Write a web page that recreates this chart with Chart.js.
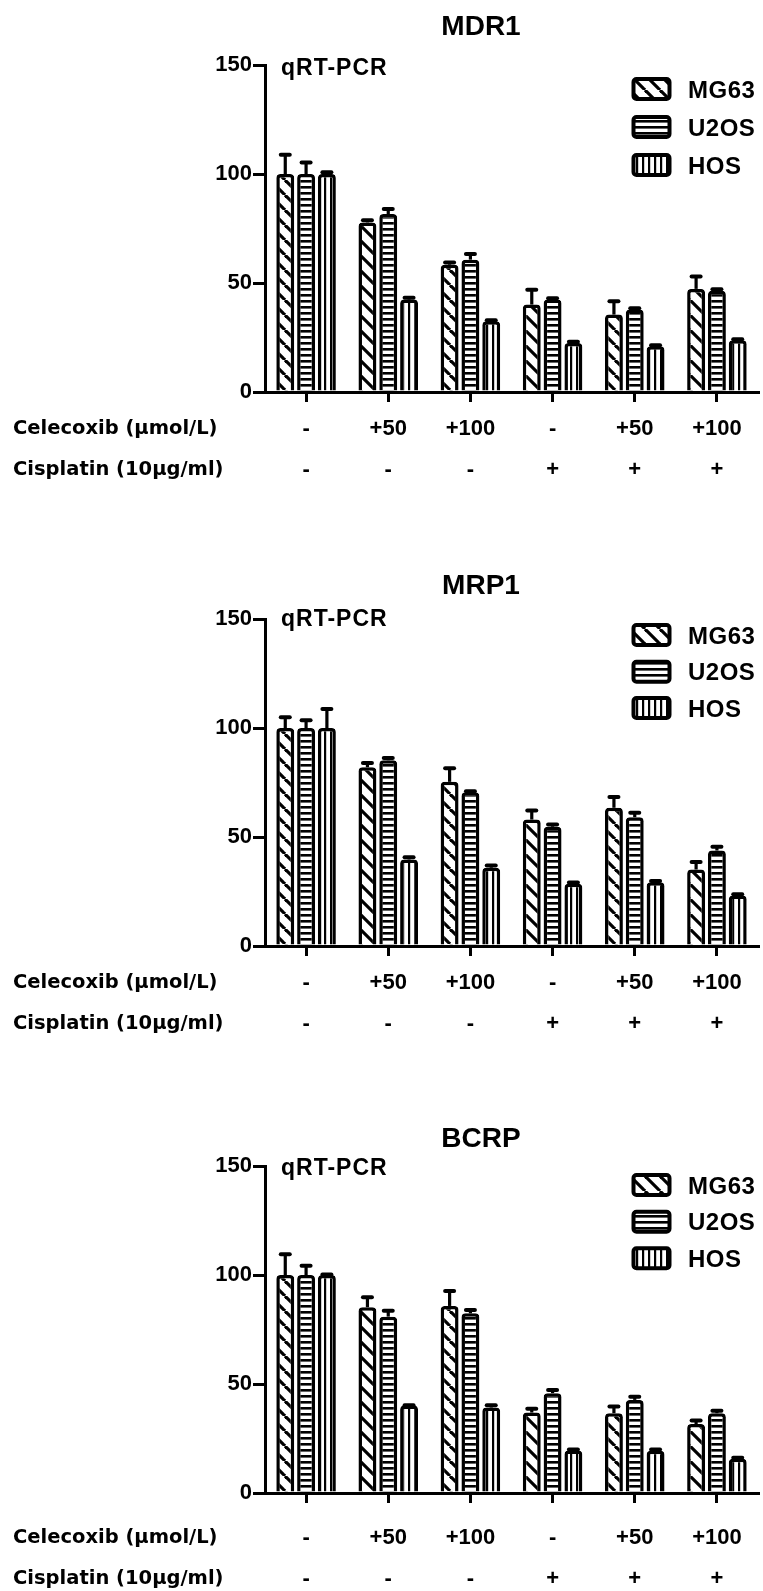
<!DOCTYPE html>
<html>
<head>
<meta charset="utf-8">
<script src="https://cdn.jsdelivr.net/npm/chart.js@4.4.1/dist/chart.umd.min.js"></script>
<style>
html, body { margin: 0; padding: 0; background: #fff; overflow: hidden; }
.panel { position: absolute; left: 0; width: 763px; height: 500px; }
</style>
</head>
<body>
<div class="panel" style="top:0px"><canvas id="c1" width="763" height="500"></canvas></div>
<div class="panel" style="top:554px"><canvas id="c2" width="763" height="500"></canvas></div>
<div class="panel" style="top:1101px"><canvas id="c3" width="763" height="500"></canvas></div>
<script>
// x axis rows
const celecoxib = ['-', '+50', '+100', '-', '+50', '+100'];
const cisplatin = ['-', '-', '-', '+', '+', '+'];
const rowNames = ['Celecoxib (\u00b5mol/L)', 'Cisplatin (10\u00b5g/ml)'];
const cellLines = ['MG63', 'U2OS', 'HOS'];
const yTicks = [0, 50, 100, 150];

// MDR1
const mdr1MG63 = [100, 77.8, 58.4, 40.1, 35.5, 47.3];
const mdr1MG63Err = [8.8, 1, 1, 6.8, 6.1, 5.7];
const mdr1U2OS = [100, 81.6, 60.7, 42.4, 37.8, 46.5];
const mdr1U2OSErr = [5.3, 2.3, 2.6, 0.6, 0.6, 0.6];
const mdr1HOS = [100, 42.4, 32.4, 22.5, 21, 23.7];
const mdr1HOSErr = [0.8, 0.8, 0.5, 0.5, 0.5, 0.5];

// MRP1
const mrp1MG63 = [100, 82, 75.3, 58, 63.4, 35.1];
const mrp1MG63Err = [4.9, 2, 6.2, 4.1, 4.9, 3.4];
const mrp1U2OS = [100, 85.2, 70.5, 54.7, 59.1, 43.8];
const mrp1U2OSErr = [3.5, 1, 0.5, 1, 2, 1.7];
const mrp1HOS = [100, 39.7, 35.9, 28.6, 29.3, 23.2];
const mrp1HOSErr = [8.7, 1, 1, 0.5, 0.5, 0.5];

// BCRP
const bcrpMG63 = [100, 85.2, 85.8, 36.9, 36.6, 31.6];
const bcrpMG63Err = [9.5, 4.6, 6.9, 1.7, 3.1, 1.7];
const bcrpU2OS = [100, 80.9, 82.4, 45.8, 42.7, 36.6];
const bcrpU2OSErr = [4.3, 2.7, 1.6, 1.5, 1.5, 1.1];
const bcrpHOS = [100, 40.1, 39.2, 19.5, 19.4, 15.7];
const bcrpHOSErr = [0.2, 0.2, 1, 0.5, 0.5, 0.5];

const FONT = "'Liberation Sans', Arial, sans-serif";

function makePattern(kind) {
    const t = document.createElement('canvas');
    const c = t.getContext('2d');
    if (kind === 'diag') {
        t.width = 15; t.height = 15;
        c.fillStyle = '#fff'; c.fillRect(0, 0, 15, 15);
        c.strokeStyle = '#000'; c.lineWidth = 3.2;
        for (let o of [-15, 0, 15]) {
            c.beginPath(); c.moveTo(o, 0); c.lineTo(o + 15, 15); c.stroke();
        }
    } else if (kind === 'horiz') {
        t.width = 6; t.height = 6;
        c.fillStyle = '#fff'; c.fillRect(0, 0, 6, 6);
        c.fillStyle = '#000'; c.fillRect(0, 0, 6, 2.6);
    } else {
        t.width = 6; t.height = 6;
        c.fillStyle = '#fff'; c.fillRect(0, 0, 6, 6);
        c.fillStyle = '#000'; c.fillRect(0, 0, 2.2, 6);
    }
    return c.createPattern(t, 'repeat');
}
const patterns = [makePattern('diag'), makePattern('horiz'), makePattern('vert')];

const decor = {
    id: 'decor',
    afterDatasetsDraw(chart) {
        const ctx = chart.ctx;
        const y = chart.scales.y;
        ctx.save();
        ctx.strokeStyle = '#000';
        chart.data.datasets.forEach((ds, i) => {
            chart.getDatasetMeta(i).data.forEach((bar, j) => {
                const top = y.getPixelForValue(ds.data[j] + ds.err[j]);
                ctx.lineWidth = 3.2; ctx.lineCap = 'butt';
                ctx.beginPath(); ctx.moveTo(bar.x, bar.y); ctx.lineTo(bar.x, top); ctx.stroke();
                ctx.lineWidth = 4; ctx.lineCap = 'round';
                ctx.beginPath(); ctx.moveTo(bar.x - 4.5, top); ctx.lineTo(bar.x + 4.5, top); ctx.stroke();
            });
        });
        ctx.restore();
    },
    afterDraw(chart, args, o) {
        const ctx = chart.ctx;
        ctx.save();
        ctx.fillStyle = '#000';
        // title
        ctx.font = 'bold 28px ' + FONT;
        ctx.textAlign = 'center';
        ctx.textBaseline = 'alphabetic';
        ctx.fillText(o.title, 481, o.titleY + 10);
        // qRT-PCR tag
        ctx.textAlign = 'left';
        ctx.font = 'bold 23px ' + FONT;
        ctx.letterSpacing = '1px';
        ctx.fillText('qRT-PCR', 281, o.tagY + 8);
        // legend
        ctx.font = 'bold 24px ' + FONT;
        ctx.letterSpacing = '0.5px';
        chart.data.datasets.forEach((ds, i) => {
            const ly = o.legendY[i];
            ctx.beginPath();
            ctx.roundRect(633.5, ly - 10, 36, 20, 3);
            ctx.fillStyle = ds.backgroundColor;
            ctx.fill();
            ctx.lineWidth = 4;
            ctx.strokeStyle = '#000';
            ctx.stroke();
            ctx.fillStyle = '#000';
            ctx.fillText(ds.label, 688, ly + 8.5);
        });
        ctx.letterSpacing = '0px';
        // row names beside the x tick rows
        const xs = chart.scales.x;
        const lh = xs.options.ticks.font.size * xs.options.ticks.font.lineHeight;
        const start = xs.top + xs.options.grid.tickLength + xs.options.ticks.padding + lh / 2;
        ctx.font = 'bold 19.5px "DejaVu Sans", sans-serif';
        ctx.textBaseline = 'middle';
        rowNames.forEach((name, i) => {
            ctx.fillText(name, 13, start + i * lh);
        });
        ctx.restore();
    }
};

function panel(id, title, series, errs, p) {
    const labels = celecoxib.map((c, i) => [c, cisplatin[i]]);
    new Chart(document.getElementById(id), {
        type: 'bar',
        data: {
            labels: labels,
            datasets: cellLines.map((name, i) => ({
                label: name,
                data: series[i],
                err: errs[i],
                backgroundColor: patterns[i],
                borderColor: '#000',
                borderWidth: 3.5,
                borderRadius: {topLeft: 4, topRight: 4, bottomLeft: 0, bottomRight: 0},
                categoryPercentage: 0.76,
                barPercentage: 0.86
            }))
        },
        options: {
            responsive: false,
            animation: false,
            layout: {padding: {top: 65, right: 5, left: 0, bottom: 0}},
            plugins: {
                legend: {display: false},
                tooltip: {enabled: false},
                decor: {title: title, titleY: p.titleY, tagY: p.tagY, legendY: p.legendY}
            },
            scales: {
                x: {
                    afterFit(s) { s.height = 108; },
                    grid: {display: true, drawOnChartArea: false, offset: false, tickLength: 10, lineWidth: 3, color: '#000'},
                    border: {display: true, width: 3, color: '#000'},
                    ticks: {
                        color: '#000',
                        padding: p.xPad,
                        maxRotation: 0,
                        autoSkip: false,
                        font: {family: FONT, size: 22, weight: 'bold', lineHeight: 41 / 22}
                    }
                },
                y: {
                    min: 0,
                    max: 150,
                    afterFit(s) { s.width = 265; },
                    afterBuildTicks(s) { s.ticks = yTicks.map(v => ({value: v})); },
                    grid: {display: true, drawOnChartArea: false, tickLength: 12, lineWidth: 3, color: '#000'},
                    border: {display: true, width: 3, color: '#000'},
                    ticks: {color: '#000', padding: 1, font: {family: FONT, size: 22, weight: 'bold'}}
                }
            }
        },
        plugins: [decor]
    });
}

panel('c1', 'MDR1', [mdr1MG63, mdr1U2OS, mdr1HOS], [mdr1MG63Err, mdr1U2OSErr, mdr1HOSErr],
    {titleY: 25, tagY: 67, legendY: [89, 127, 165], xPad: 6});
panel('c2', 'MRP1', [mrp1MG63, mrp1U2OS, mrp1HOS], [mrp1MG63Err, mrp1U2OSErr, mrp1HOSErr],
    {titleY: 30, tagY: 63.5, legendY: [81, 117.7, 154], xPad: 6});
panel('c3', 'BCRP', [bcrpMG63, bcrpU2OS, bcrpHOS], [bcrpMG63Err, bcrpU2OSErr, bcrpHOSErr],
    {titleY: 35.7, tagY: 65.7, legendY: [84, 120.7, 157.3], xPad: 14.5});
</script>
</body>
</html>
